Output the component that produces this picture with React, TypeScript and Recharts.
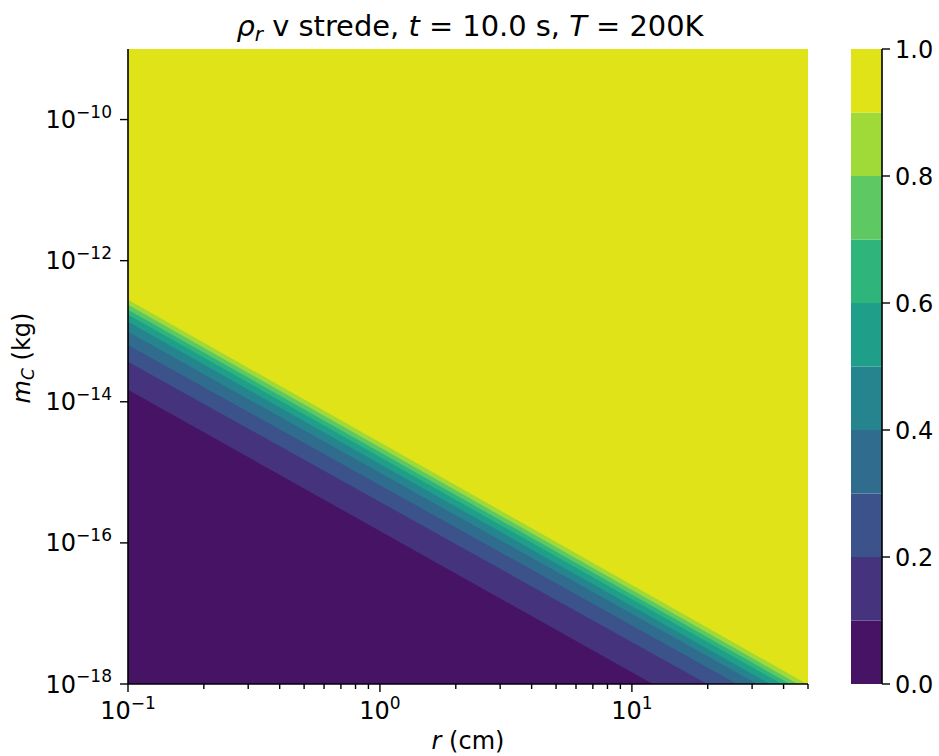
import { ComposedChart, Area, XAxis, YAxis, BarChart, Bar } from "recharts";

const FONT = "DejaVu Sans, Liberation Sans, sans-serif";

// contour levels of rho_r and where each level line sits:
// mass at the left edge (r = 0.1 cm) and radius where it meets the bottom (m = 1e-18 kg)
const contourLevels = [0.1, 0.2, 0.3, 0.4, 0.5, 0.6, 0.7, 0.8, 0.9];
const edgeMass = [1.48e-14, 3.7e-14, 6.4e-14, 9.8e-14, 1.36e-13, 1.71e-13, 2.02e-13, 2.38e-13, 2.8e-13];
const floorRadius = [12.1, 19.9, 26.1, 31.4, 35.3, 39.4, 42.4, 45.6, 49.5];

// viridis, one colour per band (0.0-0.1 ... 0.9-1.0)
const bandColors = [
  "#471365", "#46337e", "#3b528b", "#2f6c8e", "#25848e",
  "#1f9e89", "#2fb47c", "#5ec962", "#a0da39", "#dfe318",
];
const colorbarLevels = [0, 0.1, 0.2, 0.3, 0.4, 0.5, 0.6, 0.7, 0.8, 0.9, 1.0];
const colorbarTicks = [0, 0.2, 0.4, 0.6, 0.8, 1.0];

const rRange = [0.1, 50];
const mRange = [1e-18, 1e-9];

const xMajor = [0.1, 1, 10];
const xMajorExp = ["\u22121", "0", "1"];
const xMinor = [0.2, 0.3, 0.4, 0.5, 0.6, 0.7, 0.8, 0.9, 2, 3, 4, 5, 6, 7, 8, 9, 20, 30, 40, 50];
const yMajor = [1e-18, 1e-16, 1e-14, 1e-12, 1e-10];
const yMajorExp = ["\u221218", "\u221216", "\u221214", "\u221212", "\u221210"];

const xTicks = [...xMajor, ...xMinor].sort((a, b) => a - b);

const topFill = [
  { r: rRange[0], m: mRange[1] },
  { r: rRange[1], m: mRange[1] },
];
const levelLines = contourLevels.map((lvl, i) => ({
  level: lvl,
  color: bandColors[i],
  data: [
    { r: rRange[0], m: edgeMass[i] },
    { r: floorRadius[i], m: mRange[0] },
  ],
}));

const colorbarRow: Record<string, number | string> = { name: "cb" };
colorbarLevels.slice(1).forEach((hi, i) => {
  colorbarRow["b" + i] = hi - colorbarLevels[i];
});
const colorbarData = [colorbarRow];

const frame = { stroke: "#000", strokeWidth: 1.6 };
const TICK_FS = 24;
const SUP_FS = 17;

const XTick = (props: any) => {
  const { x, y, payload } = props;
  const idx = xMajor.indexOf(payload.value);
  const major = idx >= 0;
  return (
    <g>
      <line x1={x} x2={x} y1={y} y2={y + (major ? 8 : 5)} stroke="#000" strokeWidth={1.4} />
      {major && (
        <text x={x} y={y + 35} textAnchor="middle" fontFamily={FONT} fontSize={TICK_FS} fill="#000">
          <tspan>10</tspan>
          <tspan dy={-10.5} fontSize={SUP_FS}>{xMajorExp[idx]}</tspan>
        </text>
      )}
    </g>
  );
};

const YTick = (props: any) => {
  const { x, y, payload } = props;
  const idx = yMajor.indexOf(payload.value);
  if (idx < 0) return <g />;
  return (
    <g>
      <line x1={x - 8} x2={x} y1={y} y2={y} stroke="#000" strokeWidth={1.4} />
      <text x={x - 16} y={y + 8.5} textAnchor="end" fontFamily={FONT} fontSize={TICK_FS} fill="#000">
        <tspan>10</tspan>
        <tspan dy={-10.5} fontSize={SUP_FS}>{yMajorExp[idx]}</tspan>
      </text>
    </g>
  );
};

const CbTick = (props: any) => {
  const { x, y, payload } = props;
  return (
    <g>
      <line x1={x} x2={x + 8} y1={y} y2={y} stroke="#000" strokeWidth={1.4} />
      <text x={x + 13} y={y + 8.5} textAnchor="start" fontFamily={FONT} fontSize={TICK_FS} fill="#000">
        {payload.value.toFixed(1)}
      </text>
    </g>
  );
};

const App = () => {
  return (
    <div style={{ position: "absolute", left: 0, top: 0, width: 939, height: 756, background: "#fff" }}>
      <div style={{ position: "absolute", left: 0, top: 0 }}>
        <ComposedChart width={939} height={756} margin={{ top: 49, right: 131, bottom: 42, left: 68 }}>
          <XAxis
            xAxisId="b"
            dataKey="r"
            type="number"
            scale="log"
            domain={rRange}
            allowDataOverflow
            ticks={xTicks}
            interval={0}
            tickSize={0}
            tickMargin={0}
            tickLine={false}
            tick={<XTick />}
            axisLine={frame}
            height={30}
          />
          <XAxis
            xAxisId="t"
            orientation="top"
            dataKey="r"
            type="number"
            scale="log"
            domain={rRange}
            allowDataOverflow
            tick={false}
            tickLine={false}
            axisLine={frame}
            height={0}
          />
          <YAxis
            yAxisId="l"
            type="number"
            scale="log"
            domain={mRange}
            allowDataOverflow
            ticks={yMajor}
            interval={0}
            tickSize={0}
            tickMargin={0}
            tickLine={false}
            tick={<YTick />}
            axisLine={frame}
            width={60}
          />
          <YAxis
            yAxisId="r"
            orientation="right"
            type="number"
            scale="log"
            domain={mRange}
            allowDataOverflow
            tick={false}
            tickLine={false}
            axisLine={frame}
            width={0}
          />
          <Area
            xAxisId="b"
            yAxisId="l"
            data={topFill}
            dataKey="m"
            type="linear"
            baseValue={mRange[0]}
            fill={bandColors[9]}
            fillOpacity={1}
            stroke="none"
            dot={false}
            activeDot={false}
            isAnimationActive={false}
          />
          {[...levelLines].reverse().map((ln) => (
            <Area
              key={ln.level}
              xAxisId="b"
              yAxisId="l"
              data={ln.data}
              dataKey="m"
              type="linear"
              baseValue={mRange[0]}
              fill={ln.color}
              fillOpacity={1}
              stroke="none"
              dot={false}
              activeDot={false}
              isAnimationActive={false}
            />
          ))}
        </ComposedChart>
      </div>

      <div style={{ position: "absolute", left: 851, top: 0 }}>
        <BarChart
          width={90}
          height={756}
          data={colorbarData}
          margin={{ top: 49, right: 0, bottom: 72, left: 0 }}
          barCategoryGap={0}
        >
          <XAxis dataKey="name" height={0} tick={false} tickLine={false} axisLine={frame} />
          <XAxis xAxisId="t" orientation="top" dataKey="name" height={0} tick={false} tickLine={false} axisLine={frame} />
          <YAxis yAxisId="l" width={0} domain={[0, 1]} tick={false} tickLine={false} axisLine={frame} />
          <YAxis
            yAxisId="r"
            orientation="right"
            width={59}
            type="number"
            domain={[0, 1]}
            ticks={colorbarTicks}
            interval={0}
            tickSize={0}
            tickMargin={0}
            tickLine={false}
            tick={<CbTick />}
            axisLine={frame}
          />
          {bandColors.map((c, i) => (
            <Bar key={i} yAxisId="r" dataKey={"b" + i} stackId="cb" fill={c} stroke="none" isAnimationActive={false} />
          ))}
        </BarChart>
      </div>

      <svg width={939} height={756} style={{ position: "absolute", left: 0, top: 0, pointerEvents: "none" }}>
        <text x={470} y={36} textAnchor="middle" fontFamily={FONT} fontSize={28.9} fill="#000">
          <tspan fontStyle="italic">ρ</tspan>
          <tspan fontStyle="italic" fontSize={20} dy={5}>r</tspan>
          <tspan dy={-5}>{" v strede, "}</tspan>
          <tspan fontStyle="italic">t</tspan>
          <tspan>{" = 10.0 s, "}</tspan>
          <tspan fontStyle="italic">T</tspan>
          <tspan>{" = 200K"}</tspan>
        </text>
        <text x={468} y={749} textAnchor="middle" fontFamily={FONT} fontSize={24} fill="#000">
          <tspan fontStyle="italic">r</tspan>
          <tspan>{" (cm)"}</tspan>
        </text>
        <text
          transform="rotate(-90)"
          x={-358}
          y={30}
          textAnchor="middle"
          fontFamily={FONT}
          fontSize={24}
          fill="#000"
        >
          <tspan fontStyle="italic">m</tspan>
          <tspan fontStyle="italic" fontSize={17} dy={4}>C</tspan>
          <tspan dy={-4}>{" (kg)"}</tspan>
        </text>
      </svg>
    </div>
  );
};

export default App;
